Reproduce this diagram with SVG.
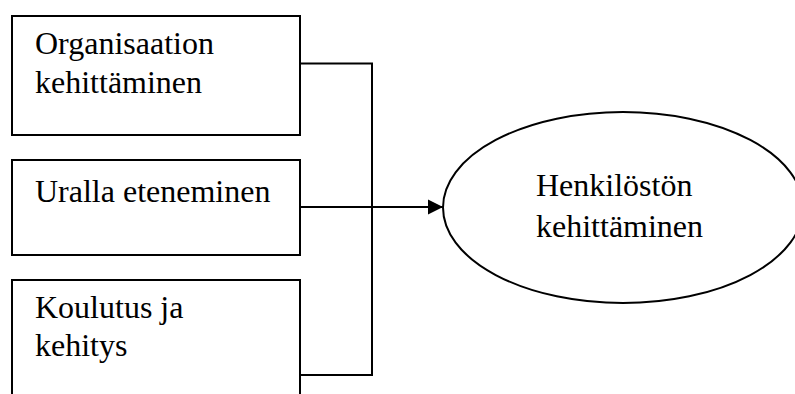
<svg xmlns="http://www.w3.org/2000/svg" width="795" height="394" viewBox="0 0 795 394">
  <style>
    .box { fill: #fff; stroke: #000; stroke-width: 2; }
    .lbl { font-family: "Liberation Serif", "Times New Roman", serif; font-size: 32px; fill: #000; }
    .wire { fill: none; stroke: #000; stroke-width: 2; }
  </style>
  <defs>
    <marker id="arrow" markerUnits="userSpaceOnUse" markerWidth="16" markerHeight="16" refX="15" refY="8" orient="auto">
      <path d="M0,0.5 L15,8 L0,15.5 Z" fill="#000"/>
    </marker>
  </defs>
  <rect width="795" height="394" fill="#fff"/>

  <g id="organisaatio">
    <rect class="box" x="12" y="16" width="288" height="119"/>
    <text class="lbl" x="35" y="54">Organisaation</text>
    <text class="lbl" x="35" y="93">kehittäminen</text>
  </g>

  <g id="ura">
    <rect class="box" x="12" y="160" width="288" height="95"/>
    <text class="lbl" x="35" y="202">Uralla eteneminen</text>
  </g>

  <g id="koulutus">
    <rect class="box" x="12" y="280" width="288" height="130"/>
    <text class="lbl" x="35" y="318">Koulutus ja</text>
    <text class="lbl" x="35" y="356">kehitys</text>
  </g>

  <g id="henkilosto">
    <ellipse class="box" cx="623" cy="207.5" rx="180" ry="95.5"/>
    <text class="lbl" x="536" y="196">Henkilöstön</text>
    <text class="lbl" x="536" y="237">kehittäminen</text>
  </g>

  <g id="connectors">
    <path class="wire" d="M300,63.5 H372 V375 H300"/>
    <path class="wire" d="M300,207 H443" marker-end="url(#arrow)"/>
  </g>
</svg>
